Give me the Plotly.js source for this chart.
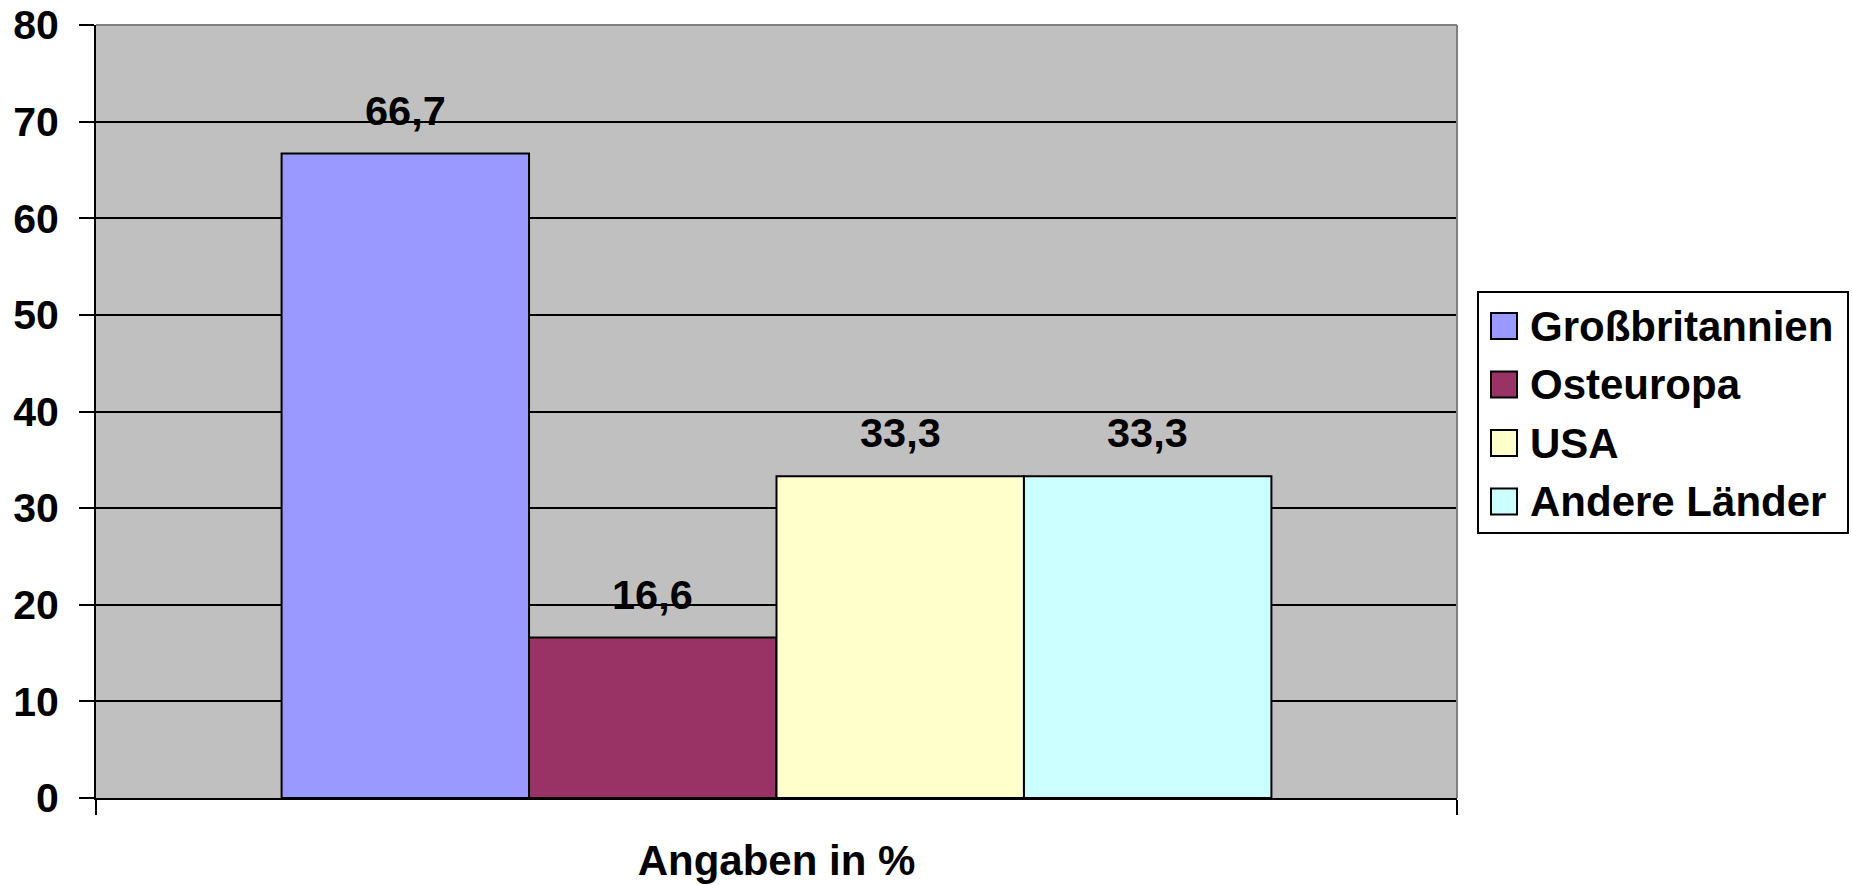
<!DOCTYPE html>
<html><head><meta charset="utf-8">
<script src="https://cdn.plot.ly/plotly-3.0.1.min.js"></script>
<style>html,body{margin:0;padding:0;background:#fff}#chart{width:1852px;height:885px}</style>
</head><body><div id="chart"></div>
<script>
// ---- data ----
const categoryLabels = ['Angaben in %'];
const seriesNames = ['Großbritannien', 'Osteuropa', 'USA', 'Andere Länder'];
const seriesValues = [66.7, 16.6, 33.3, 33.3];
const yTickValues = [0, 10, 20, 30, 40, 50, 60, 70, 80];

// ---- styles ----
const barColors = ['#9999FF', '#993366', '#FFFFCC', '#CCFFFF'];
const W = 1852, H = 885;
const M = {l: 96, r: 395, t: 25, b: 87};
const PW = W - M.l - M.r, PH = H - M.t - M.b;
const BARGAP = 1.5 / 5.5;
const px2x = p => (p - M.l) / PW;
const py2y = p => (H - M.b - p) / PH;
const boldArial = 'Liberation Sans, Arial, sans-serif';

const traces = seriesNames.map((n, i) => ({
  type: 'bar', name: n, x: categoryLabels, y: [seriesValues[i]],
  marker: {color: barColors[i], line: {color: '#000', width: 2}},
  showlegend: false, hoverinfo: 'name+y'
}));

const nS = seriesNames.length;
const annotations = seriesValues.map((v, i) => ({
  xref: 'x', yref: 'y',
  x: -0.5 + BARGAP / 2 + (i + 0.5) * (1 - BARGAP) / nS,
  y: v, text: String(v).replace('.', ','), showarrow: false,
  xanchor: 'center', yanchor: 'bottom', yshift: 18,
  font: {family: boldArial, size: 41.5, color: '#000', weight: 'bold'}
}));

const shapes = [
  {type: 'line', xref: 'paper', yref: 'paper', x0: 0, x1: 1, y0: 1, y1: 1, line: {color: '#808080', width: 2}, layer: 'above'},
  {type: 'line', xref: 'paper', yref: 'paper', x0: 1, x1: 1, y0: 0, y1: 1, line: {color: '#808080', width: 2}, layer: 'above'}
];

// custom legend
const leg = {x0: 1478, x1: 1848, y0: 292, y1: 533, first: 326, step: 58.5, swX: 1491, sw: 26, txtX: 1528};
shapes.push({type: 'rect', xref: 'paper', yref: 'paper',
  x0: px2x(leg.x0), x1: px2x(leg.x1), y0: py2y(leg.y1), y1: py2y(leg.y0),
  line: {color: '#000', width: 2}, fillcolor: '#fff', layer: 'above'});
seriesNames.forEach((n, i) => {
  const cy = leg.first + i * leg.step;
  shapes.push({type: 'rect', xref: 'paper', yref: 'paper',
    x0: px2x(leg.swX), x1: px2x(leg.swX + leg.sw), y0: py2y(cy + leg.sw / 2), y1: py2y(cy - leg.sw / 2),
    line: {color: '#000', width: 2}, fillcolor: barColors[i], layer: 'above'});
  annotations.push({xref: 'paper', yref: 'paper', x: px2x(leg.txtX), y: py2y(cy),
    xanchor: 'left', yanchor: 'middle', showarrow: false, text: n,
    font: {family: boldArial, size: 42, color: '#000', weight: 'bold'}});
});

const layout = {
  width: W, height: H, margin: M,
  paper_bgcolor: '#fff', plot_bgcolor: '#C0C0C0',
  barmode: 'group', bargap: BARGAP, bargroupgap: 0,
  showlegend: false,
  xaxis: {
    type: 'category', range: [-0.5, 0.5], showline: true, linecolor: '#000', linewidth: 2,
    ticks: 'outside', tickson: 'boundaries', ticklen: 15, tickwidth: 2, tickcolor: '#000',
    showgrid: false, zeroline: false, ticklabelstandoff: 25,
    tickfont: {family: boldArial, size: 42, color: '#000', weight: 'bold'}
  },
  yaxis: {
    range: [0, 80], tickvals: yTickValues, ticktext: yTickValues.map(String),
    showline: true, linecolor: '#000', linewidth: 2,
    ticks: 'outside', ticklen: 15, tickwidth: 2, tickcolor: '#000',
    showgrid: true, gridcolor: '#000', gridwidth: 2, zeroline: false,
    ticklabelstandoff: 12,
    tickfont: {family: boldArial, size: 41, color: '#000', weight: 'bold'}
  },
  annotations: annotations, shapes: shapes
};

Plotly.newPlot('chart', traces, layout, {displayModeBar: false, staticPlot: true});
</script></body></html>
